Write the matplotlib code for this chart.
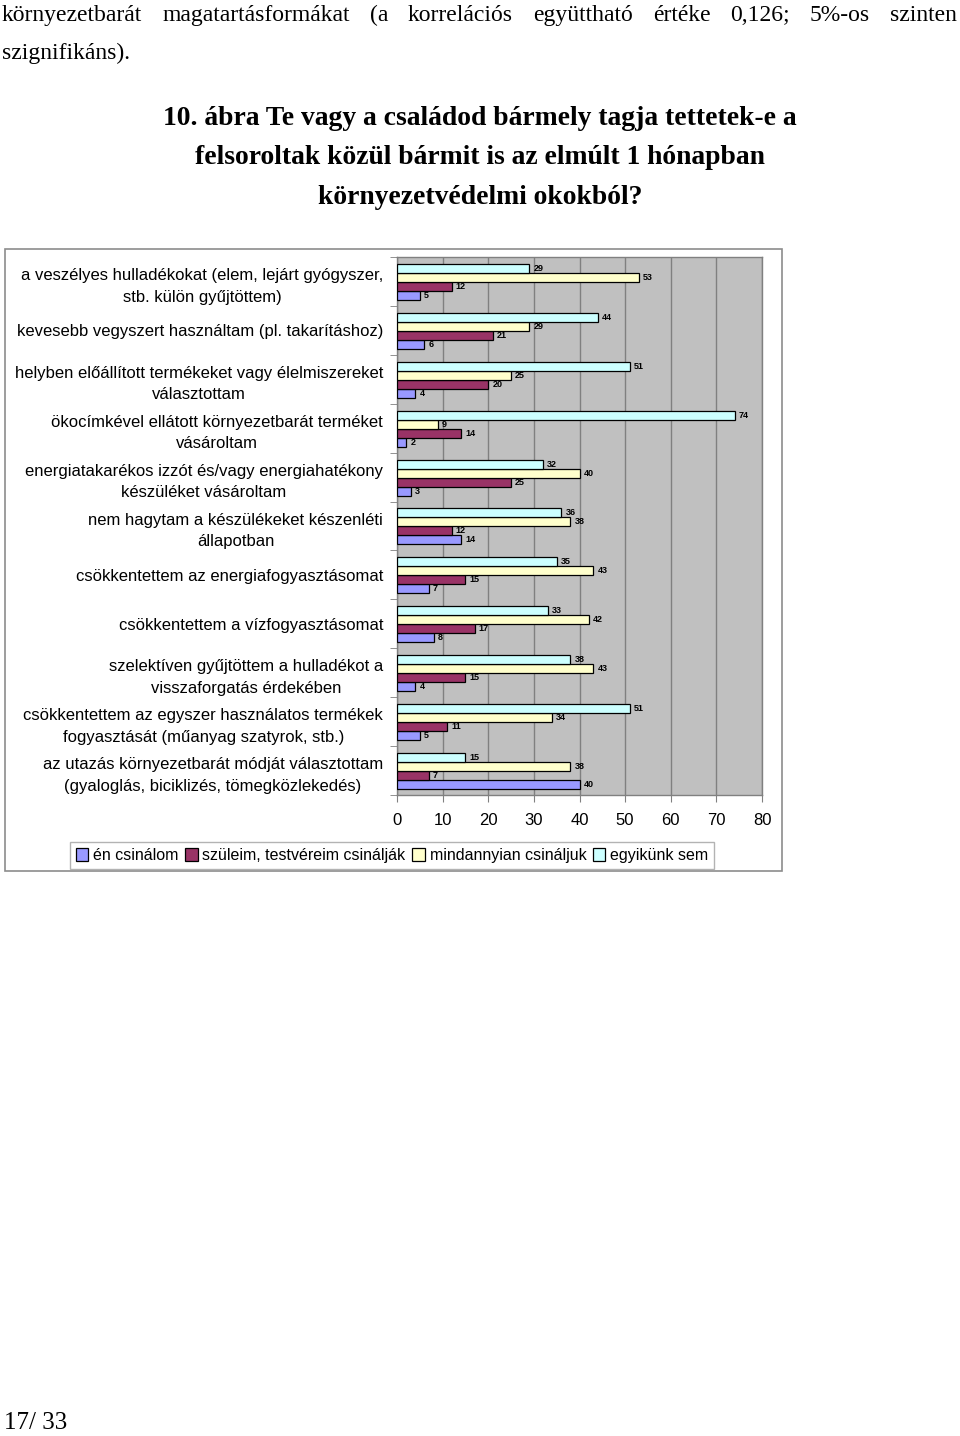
import matplotlib
matplotlib.use("Agg")
import matplotlib.pyplot as plt
from matplotlib.patches import Rectangle, Patch

categories = [
    "a veszélyes hulladékokat (elem, lejárt gyógyszer,\nstb. külön gyűjtöttem)",
    "kevesebb vegyszert használtam (pl. takarításhoz)",
    "helyben előállított termékeket vagy élelmiszereket\nválasztottam",
    "ökocímkével ellátott környezetbarát terméket\nvásároltam",
    "energiatakarékos izzót és/vagy energiahatékony\nkészüléket vásároltam",
    "nem hagytam a készülékeket készenléti\nállapotban",
    "csökkentettem az energiafogyasztásomat",
    "csökkentettem a vízfogyasztásomat",
    "szelektíven gyűjtöttem a hulladékot a\nvisszaforgatás érdekében",
    "csökkentettem az egyszer használatos termékek\nfogyasztását (műanyag szatyrok, stb.)",
    "az utazás környezetbarát módját választottam\n(gyaloglás, biciklizés, tömegközlekedés)",
]
series_names = ["én csinálom", "szüleim, testvéreim csinálják", "mindannyian csináljuk", "egyikünk sem"]
en = [5, 6, 4, 2, 3, 14, 7, 8, 4, 5, 40]
szuleim = [12, 21, 20, 14, 25, 12, 15, 17, 15, 11, 7]
mindannyian = [53, 29, 25, 9, 40, 38, 43, 42, 43, 34, 38]
egyikunk = [29, 44, 51, 74, 32, 36, 35, 33, 38, 51, 15]
x_ticks = [0, 10, 20, 30, 40, 50, 60, 70, 80]

colors = ["#9999FF", "#993366", "#FFFFCC", "#CCFFFF"]
W, H = 960, 1436
fig = plt.figure(figsize=(W / 100, H / 100), dpi=100)
fig.patch.set_facecolor("white")

def fx(px):
    return px / W

def fy(py):
    return 1 - py / H

# chart outer frame
fig.patches.append(Rectangle((fx(5), fy(871)), fx(782) - fx(5), fy(249) - fy(871),
                             transform=fig.transFigure, fill=False, edgecolor="#8c8c8c", lw=1.2))

ax = fig.add_axes([fx(397), fy(795), fx(762) - fx(397), fy(257) - fy(795)])
ax.set_facecolor("#C0C0C0")

n = len(categories)
h = 0.184
series = [en, szuleim, mindannyian, egyikunk]
offsets = [1.5 * h, 0.5 * h, -0.5 * h, -1.5 * h]
for vals, col, off, name in zip(series, colors, offsets, series_names):
    ys = [i + 0.51 + off for i in range(n)]
    ax.barh(ys, vals, height=h, color=col, edgecolor="black", lw=0.9, label=name, zorder=3)
    for y, v in zip(ys, vals):
        ax.annotate(str(v), (v, y), xytext=(3, 0), textcoords="offset points",
                    ha="left", va="center", fontsize=6.5, fontweight="bold",
                    family="Liberation Sans", zorder=4)

ax.set_xlim(0, 80)
ax.set_ylim(n, 0)
ax.set_xticks(x_ticks)
ax.set_xticklabels([str(t) for t in x_ticks], fontsize=12, family="Liberation Sans")
ax.tick_params(axis="x", length=5, color="#808080", pad=8)
ax.xaxis.grid(True, color="#808080", lw=1.0, zorder=0)
ax.set_axisbelow(True)

ax.set_yticks([i + 0.5 for i in range(n)])
ax.set_yticklabels(categories, fontsize=12, family="Liberation Sans", linespacing=1.55)
for lab in ax.get_yticklabels():
    lab.set_multialignment("center")
ax.tick_params(axis="y", which="major", length=0, pad=10)
ax.set_yticks(list(range(n + 1)), minor=True)
ax.tick_params(axis="y", which="minor", length=5, color="#808080")
for s in ax.spines.values():
    s.set_color("#808080")
    s.set_linewidth(1.0)

handles = [Patch(facecolor=c, edgecolor="black", lw=0.9) for c in colors]
leg = fig.legend(handles, series_names, loc="center", bbox_to_anchor=(fx(392), fy(855.5)),
                 ncol=4, frameon=True, fancybox=False, edgecolor="#a0a0a0",
                 prop={"family": "Liberation Sans", "size": 11.5},
                 handlelength=0.8, handleheight=0.8, handletextpad=0.3,
                 columnspacing=0.4, borderpad=0.38, borderaxespad=0)
leg.get_frame().set_linewidth(1.0)

# surrounding document text
serif = "Liberation Serif"
body_size = 17
line1 = "környezetbarát magatartásformákat (a korrelációs együttható értéke 0,126; 5%-os szinten".split()
fig.canvas.draw()
r = fig.canvas.get_renderer()
tmp = [fig.text(0, 0, w, fontsize=body_size, family=serif) for w in line1]
widths = [t.get_window_extent(r).width for t in tmp]
for t in tmp:
    t.remove()
left, right = 2, 957
gap = (right - left - sum(widths)) / (len(line1) - 1)
x = left
for w, wd in zip(line1, widths):
    fig.text(fx(x), fy(21), w, fontsize=body_size, family=serif, va="baseline", ha="left")
    x += wd + gap
fig.text(fx(2), fy(59), "szignifikáns).", fontsize=body_size, family=serif, va="baseline", ha="left")

title_lines = ["10. ábra Te vagy a családod bármely tagja tettetek-e a",
               "felsoroltak közül bármit is az elmúlt 1 hónapban",
               "környezetvédelmi okokból?"]
for tl, yy in zip(title_lines, [125, 164, 204]):
    fig.text(fx(480), fy(yy), tl, fontsize=19.9, family=serif, fontweight="bold",
             ha="center", va="baseline")

fig.text(fx(4), fy(1429), "17/ 33", fontsize=18, family=serif, ha="left", va="baseline")

fig.savefig("out.png", dpi=100)
